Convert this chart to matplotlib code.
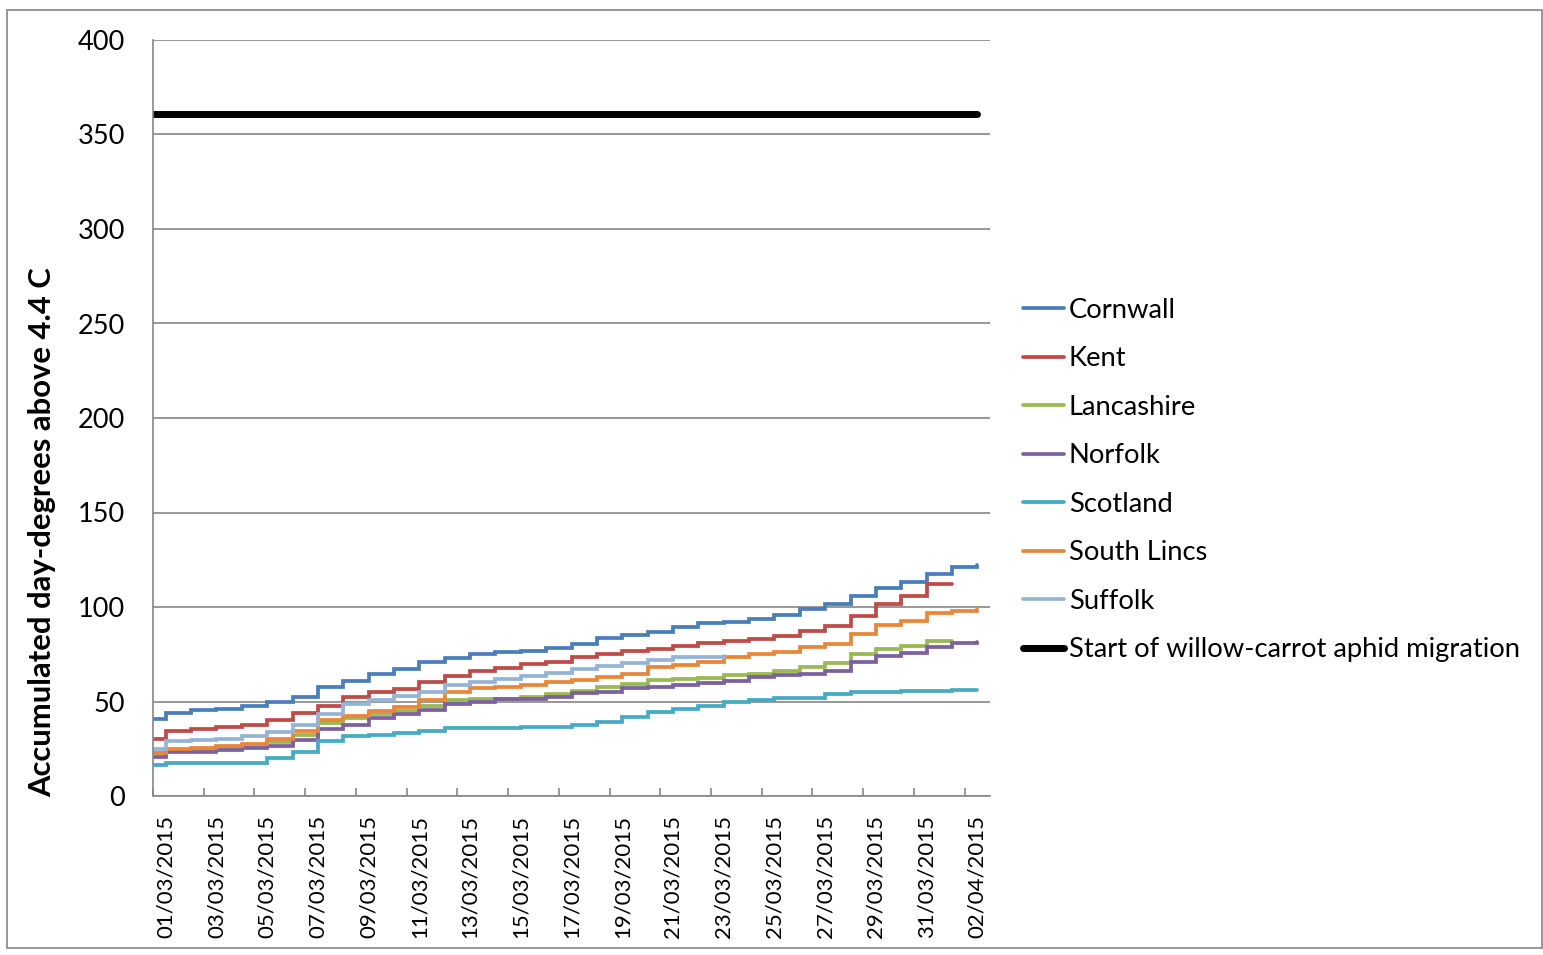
import numpy as np
import pandas as pd
import matplotlib
matplotlib.use("Agg")
import matplotlib.pyplot as plt
from matplotlib.patches import Rectangle

plt.rcParams['font.family'] = ['Lato', 'DejaVu Sans']

# dates on the category axis (one slot per day)
dates = pd.date_range('2015-03-01', '2015-04-02', freq='D')
date_labels = [d.strftime('%d/%m/%Y') for d in dates]

# accumulated day-degrees: first value = start, then value after each day
cornwall = [40.6, 43.8, 45.3, 46.2, 47.6, 49.9, 52.5, 57.5, 61.0, 64.7, 67.0, 71.0, 73.2, 75.1,
            76.2, 76.9, 78.1, 80.6, 83.4, 85.2, 86.6, 89.6, 91.4, 92.2, 93.7, 95.6, 98.8,
            101.6, 105.8, 109.9, 113.4, 117.5, 121.0, 122.2]
kent = [30.0, 34.6, 35.3, 36.7, 37.6, 40.0, 43.8, 47.6, 52.5, 55.2, 56.5, 60.2, 63.7, 66.3,
        67.9, 69.7, 71.1, 73.5, 75.1, 76.7, 77.8, 79.5, 80.8, 82.0, 83.1, 84.5, 87.5, 89.9,
        95.4, 101.6, 105.8, 112.0, 112.0]
lancashire = [22.5, 24.3, 24.9, 25.8, 27.0, 28.7, 32.3, 38.4, 41.1, 43.4, 45.1, 47.6, 50.8,
              51.3, 51.3, 52.5, 54.0, 55.3, 57.5, 59.3, 61.4, 61.9, 62.6, 64.0, 64.6, 66.3,
              68.1, 70.2, 75.1, 77.8, 79.5, 82.2, 82.2]
norfolk = [20.8, 23.1, 23.4, 24.3, 25.2, 26.4, 29.6, 35.3, 37.5, 41.3, 43.2, 45.3, 48.5, 49.9,
           51.1, 51.3, 52.5, 54.3, 55.2, 57.0, 57.8, 58.7, 59.6, 61.0, 63.1, 64.0, 64.6, 66.3,
           71.1, 74.1, 75.8, 79.0, 80.8, 81.6]
scotland = [16.4, 17.3, 17.3, 17.3, 17.3, 19.9, 23.4, 29.3, 31.7, 32.5, 33.5, 34.5, 35.8, 35.8,
            35.8, 36.6, 36.7, 37.6, 39.3, 42.0, 44.3, 45.9, 47.7, 49.9, 50.8, 51.8, 52.0, 53.8,
            54.8, 54.8, 55.7, 55.7, 56.0, 56.3]
south_lincs = [22.9, 24.9, 25.6, 26.6, 27.7, 30.3, 34.4, 40.0, 42.4, 45.0, 46.9, 50.8, 55.2,
               57.0, 57.8, 58.7, 60.2, 61.4, 62.8, 64.4, 68.1, 69.3, 71.1, 73.4, 75.1, 76.2,
               78.7, 80.4, 85.6, 90.5, 92.6, 96.7, 98.0, 98.8]
suffolk = [24.9, 29.3, 29.6, 30.2, 31.6, 34.0, 37.6, 43.4, 48.7, 50.8, 52.9, 55.2, 58.7, 60.5,
           61.9, 63.5, 64.9, 67.3, 68.8, 70.5, 72.0, 73.4, 73.7, 74.0]
migration_start = 361

series = [
    ('Cornwall', cornwall, '#4A7EBB'),
    ('Kent', kent, '#BE4B48'),
    ('Lancashire', lancashire, '#98B954'),
    ('Norfolk', norfolk, '#7D60A0'),
    ('Scotland', scotland, '#46AAC5'),
    ('South Lincs', south_lincs, '#E8863A'),
    ('Suffolk', suffolk, '#95B3D7'),
]

fig = plt.figure(figsize=(15.43, 9.55), dpi=100)
ax = fig.add_axes([153 / 1543, 1 - 796 / 955, (990 - 153) / 1543, (796 - 40) / 955])

def slot_x(n):
    # start at the axis, then one jump at the centre of each day slot
    return [0] + [k + 0.5 for k in range(n - 1)]

for name, vals, col in series:
    ax.plot(slot_x(len(vals)), vals, drawstyle='steps-post', color=col, lw=2.7,
            label=name, solid_capstyle='round', solid_joinstyle='miter')

thr = [migration_start] * len(cornwall)
ax.plot(slot_x(len(thr)), thr, color='black', lw=5, solid_capstyle='round',
        label='Start of willow-carrot aphid migration')

ax.set_xlim(0, len(dates))
ax.set_ylim(0, 400)
ax.set_yticks(np.arange(0, 401, 50))
ax.yaxis.grid(True, color='#868686', lw=1.2)
ax.set_axisbelow(True)
ax.tick_params(axis='y', length=0, pad=20, labelsize=19.5)

ax.set_xticks(np.arange(0, len(dates), 2))
ax.set_xticklabels([])
ax.set_xticks(np.arange(0, len(dates), 2) + 0.5, minor=True)
ax.set_xticklabels(date_labels[::2], minor=True, rotation=90, fontsize=16)
ax.tick_params(axis='x', which='major', direction='in', length=6, color='#868686', width=1.2)
ax.tick_params(axis='x', which='minor', length=0, pad=13.5)

for s in ['top', 'right']:
    ax.spines[s].set_visible(False)
for s in ['left', 'bottom']:
    ax.spines[s].set_color('#868686')
    ax.spines[s].set_linewidth(1.2)

fig.text(42 / 1543, 1 - 532 / 955, 'Accumulated day-degrees above 4.4 C', rotation=90,
         fontsize=22.3, fontweight='bold', ha='center', va='center')

fig.legend(loc='center left', bbox_to_anchor=(998 / 1543, 1 - 480 / 955), frameon=False,
           fontsize=19.7, handlelength=1.5, handletextpad=0.18, labelspacing=0.86)

fig.patches.append(Rectangle((7 / 1543, 1 - 948 / 955), 1535 / 1543, 938 / 955,
                             transform=fig.transFigure, fill=False, edgecolor='#868686', lw=1.2))

fig.savefig('out.png', dpi=100)
